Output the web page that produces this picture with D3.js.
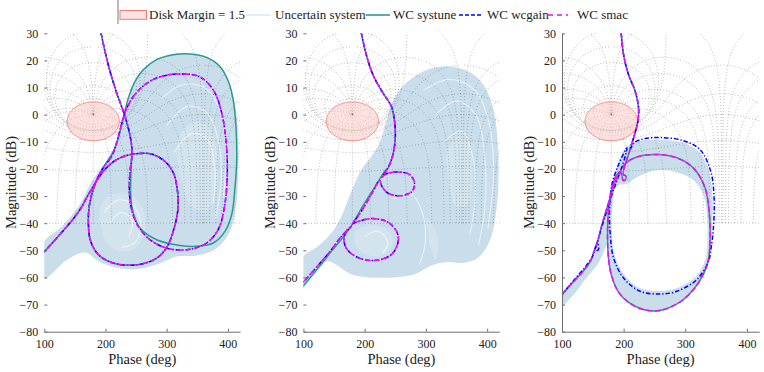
<!DOCTYPE html>
<html>
<head>
<meta charset="utf-8">
<script src="https://cdn.jsdelivr.net/npm/d3@7"></script>
<style>
  body { margin: 0; background: #fff; }
  svg text { font-family: "Liberation Serif", "Times New Roman", "DejaVu Serif", serif; fill: #222; }
</style>
</head>
<body>
<div id="chart"></div>
<script>
var serifFont = "'Liberation Serif', 'Times New Roman', 'DejaVu Serif', serif";

// ---- axis settings / tick labels ----
var phaseDomain = [100, 420];
var magDomain = [-80, 30];
var phaseTicks = [100, 200, 300, 400];
var magTicks = [-80, -70, -60, -50, -40, -30, -20, -10, 0, 10, 20, 30];

// Nichols grid: closed-loop gains (dB) and closed-loop phases (deg)
var gridGains = [6, 3, 1, 0.5, 0.25, 0, -1, -3, -6, -12, -20, -40];
var gridPhases = [1, 5, 10, 20, 30, 50, 90, 120, 150, 180, 210, 240, 270, 300, 310, 330, 340, 350, 355, 359];

// disk margin exclusion region: magnitudes (dB) at 180 deg, top and bottom
var diskTopDb = 4.7;
var diskBottomDb = -9.6;

// ---- panel 1 : [phase deg, magnitude dB] ----
var p1Smac = [[192.7,30.1],[199.2,23.3],[207.4,16.0],[218.3,8.0],[229.2,1.2],[237.3,-4.9],[242.2,-10.4],[243.3,-14.7],
  [240.1,-20.9],[239.0,-28.3],[242.8,-35.0],[253.7,-41.2],[272.8,-46.1],[300.0,-49.2],[332.7,-49.8],[365.4,-47.3],
  [385,-42],[395,-33.2],[399,-22.1],[397.5,-11.1],[390,0.5],[377,8.8],[354.5,13.9],[316.3,15.0],
  [283.6,13.5],[261.8,10.6],[245,6.5],[233,1.5],[225,-4.5],[218,-10.5],[210.1,-15.4],
  [196.5,-19.5],[183.0,-25.5],[174.0,-33.0],[172.0,-40.0],[175.5,-46.5],[188,-51.5],[210,-54.5],[235,-55.5],
  [260,-55],[283.6,-52.9],[300,-49],[312,-42],[318.5,-34.4],[317,-27],[310,-21],[295,-16.8],[275,-14.5],
  [255,-14.3],[235,-15.0],[215,-17.0],[198,-20.5],[185,-24.6],[172,-29.5],[160,-34.4],[147,-38.5],
  [132,-42.5],[115,-46.8],[98,-51]];
var p1Wcgain = p1Smac; // wcgain lies on top of smac in this panel
var p1Systune = [[192.7,30.1],[199.2,23.3],[207.4,16.0],[218.3,8.0],[229.2,1.2],[237.3,-4.9],[242.2,-10.4],[243.3,-14.7],
  [242.5,-17.2],[241.2,-29.5],[245.5,-36.3],[256.4,-41.8],[283.6,-46.1],[321.8,-48.2],[349,-48.5],[376,-47.3],
  [395.3,-43],[406.2,-36.9],[411.6,-27],[414.4,-17.2],[413.3,-4.9],[409,5],[400.8,12.3],[387.1,17.8],
  [365.4,21.1],[338.1,22.4],[310.9,22.1],[283.6,20.3],[261.9,16.6],[248.2,12.3],[237.3,6.1],[229.2,-1.2],
  [221,-8.6],[212.8,-13.5],[204.7,-16.6],
  [196.5,-19.5],[183.0,-25.5],[174.0,-33.0],[172.0,-40.0],[175.5,-46.5],[188,-51.5],[210,-54.5],[235,-55.5],
  [260,-55],[283.6,-52.9],[300,-49],[312,-42],[318.5,-34.4],[317,-27],[310,-21],[295,-16.8],[275,-14.5],
  [255,-14.3],[235,-15.0],[215,-17.0],[198,-20.5],[185,-24.6],[172,-29.5],[160,-34.4],[147,-38.5],
  [132,-42.5],[115,-46.8],[98,-51]];
var p1Uncertain = [[98,-47.5],[125.7,-41.8],[147.5,-36.3],[161.1,-31.9],[174.7,-25.8],[188.3,-20.9],[204.7,-16.2],
  [215.6,-11.7],[223.7,-4.9],[231.9,2.5],[242.8,9.8],[261.9,17.2],[289.1,21.1],[321.8,22.6],[354.5,21.6],
  [387.1,17.5],[406.2,9.2],[415.5,-2.5],[417.1,-17.2],[414.4,-31.9],[403.5,-43.0],[381.7,-49.2],[349.0,-51.9],
  [316.3,-52.3],[294.5,-54.3],[267.3,-56.3],[240,-57],[210,-56],[185,-53.5],[170,-51],[158.3,-51.1],
  [136.6,-53.6],[98,-60.5]];
var p1Sparse = [[[192,-34],[205,-30],[225,-29],[250,-31],[264,-37],[263,-44],[250,-49],[228,-50.5],[205,-48],[193,-42]],
  [[318,-10],[340,-3],[366,-4],[382,-14],[380,-28],[362,-36],[338,-33],[322,-22]]];
// white gaps seen between the uncertain responses
var p1Streaks = [
  [[292,6],[325,11],[362,10],[388,1],[397,-14],[393,-30]],
  [[300,-4],[333,3],[364,1],[384,-9],[389,-24],[380,-38]],
  [[312,-14],[340,-7],[366,-9],[379,-20],[376,-33]],
  [[198,-36],[220,-31.5],[244,-33],[257,-40],[249,-47],[226,-49]],
  [[206,-40],[226,-36],[244,-39],[238,-45]]];

// ---- panel 2 ----
var p2Smac = [[194.5,30.1],[202.7,22.1],[213.6,14.7],[229.9,8.0],[243.5,3.1],[248.9,-2.5],[250.0,-8.6],[246.2,-14.7],
  [238.0,-19.7],[228.5,-23.0],
  [235.3,-21.8],[254.3,-21.1],[273.4,-22.1],[281.5,-25.2],[277.2,-28.3],[257.1,-29.9],[238.0,-28.9],[228.2,-26.4],[224.4,-24.3],
  [213.6,-28.3],[202.7,-32.6],[189.1,-37.5],[180,-40.2],
  [186.4,-39.6],[210.8,-38.3],[238.0,-39.6],[253.3,-43.6],[254.3,-47.3],[243.5,-51.6],[219.0,-53.7],[191.8,-52.9],
  [171.7,-49.8],[166.2,-46.1],[170.1,-43.0],[178.2,-41.2],
  [161.9,-44.9],[145.6,-49.8],[123.8,-55.6],[98,-62.2]];
var p2Wcgain = p2Smac; // wcgain coincides with smac here
var p2Systune = [[194.5,30.1],[202.7,22.1],[213.6,14.7],[229.9,8.0],[243.5,3.1],[248.9,-2.5],[250.0,-8.6],[246.2,-14.7],
  [238.0,-19.7],[233.7,-20.6],[221.7,-24.8],[208.1,-29.7],[194.5,-34.6],[180.9,-40.1],[164.6,-45.2],[145.6,-50.4],
  [123.8,-56.6],[98,-63.6]];
var p2Uncertain = [[98,-52.8],[123.8,-48.5],[145.6,-43.6],[161.9,-37.5],[178.2,-28.3],[194.5,-20.3],[210.8,-15.4],
  [224.4,-10.4],[233.7,-3.7],[243.5,3.7],[259.8,9.8],[281.5,14.1],[308.7,17.0],[335.9,17.8],[363.1,16.6],
  [384.8,13.5],[401.2,8.0],[412.0,0.0],[417.5,-11.1],[418.6,-23.4],[414.8,-35.6],[403.9,-46.7],[384.8,-52.8],
  [357.7,-54.7],[335,-54.3],[310,-55.5],[285,-58.5],[260,-59.7],[230,-60.1],[200,-59.8],[175,-58.5],
  [155,-55.5],[140,-54],[123.8,-57],[98,-63.8]];
var p2Sparse = [[[185,-43],[205,-41],[230,-41.5],[245,-45],[242,-49.5],[225,-52],[202,-51.5],[186,-48.5]],
  [[302,-38],[314,-42],[320,-49],[316,-53.5],[308,-50],[304,-44]],
  [[334,-14],[352,-8],[370,-11],[376,-23],[368,-33],[350,-34],[338,-26]]];
var p2Streaks = [
  [[296,9],[338,13],[380,9],[404,-4],[410,-24],[401,-42]],
  [[316,0],[350,5],[381,0],[396,-15],[396,-35],[386,-48]],
  [[330,-10],[358,-6],[377,-16],[380,-32],[372,-44]],
  [[248,-31],[274,-29],[294,-36],[299,-47],[290,-55]],
  [[200,-45],[222,-43],[238,-47],[230,-51]]];

// ---- panel 3 ----
var p3Smac = [[196.1,30.1],[199.9,22.1],[208.0,14.7],[218.8,8.6],[224.2,2.5],[223.1,-2.5],[216.1,-8.6],[208.0,-14.7],
  [201,-19.5],[199.5,-22.0],[203.5,-22.6],[203,-24],[199,-24.2],[197.5,-22.5],
  [195,-21],[204,-17.8],[221.5,-15.6],[253.9,-14.7],[286.3,-15.9],[313.3,-19.7],[332.2,-27.0],[339.2,-36.9],
  [340.3,-46.7],[337.6,-53.5],[330,-58.5],[315,-64],[295,-68.5],[272,-71.3],[253.9,-72.3],[232,-71.8],
  [210,-69.5],[192,-65.5],[180,-59],[175,-51.6],[174,-41.8],[176.5,-33],[181,-27],[188,-22.5],[194.5,-20.9],
  [186,-25],[179,-30],[172.9,-34.4],[164.8,-40.6],[157.8,-46.7],[151,-51],[145.9,-54.1],[135,-57.5],
  [124.3,-60.2],[112,-63.2],[98,-66.8]];
var p3Systune = p3Smac; // systune sits under the smac curve here
var p3Wcgain = [[196.1,30.1],[199.9,22.1],[208.0,14.7],[218.8,8.6],[224.2,2.5],[223.1,-2.5],[216.1,-8.6],[211,-12.5],
  [218,-10.2],[235,-8.8],[259.3,-8.4],[297.1,-9.6],[324.1,-12.9],[341.4,-20.9],[346.8,-30.7],[345.7,-41.8],
  [342,-49],[337.6,-54.1],[318.7,-60.8],[286.3,-65.1],[259.3,-66.1],[226.9,-65.1],[199.9,-60.2],[183.7,-52.8],
  [178.3,-44.2],[177.2,-34.4],[181.0,-25.8],[191.8,-18.4],[205.3,-12.3],
  [203,-15],[196,-20],[188,-25],[178,-31.5],[170,-37.5],[163,-42.5],[158,-46.5],
  [155.5,-48.5],[157,-50],[159.5,-49.5],[158.5,-47.8],[155.5,-48.2],
  [150,-52],[140,-55.5],[125,-59.5],[112,-63],[98,-67]];
var p3Uncertain = [[206,-11.5],[230,-9.5],[259,-9.2],[297,-10.4],[322,-13.6],[339,-21],[344.5,-31],[343.5,-42],
  [340.5,-49],[338,-54],[330,-59],[315,-64.5],[295,-69],[272,-71.8],[254,-72.8],[232,-72.3],[210,-70],
  [192,-66],[179,-59],[173.5,-51.6],[173,-41.8],[175.5,-33],[180,-27],[187,-21],[195,-15.5]];
var p3UncertainHole = [[192,-26],[205,-25.5],[222,-23],[254,-20.5],[290,-21.5],[315,-24.5],[330,-30],[335.5,-38],
  [336,-46],[333,-53],[318,-59.5],[286,-64],[259,-65],[227,-64],[201,-59],[186,-52],[181,-44],[180.5,-34.5],[184,-28]];
var p3UncertainTail = [[98,-66.2],[112,-62.6],[125,-59.1],[140,-55.1],[150,-51.6],[158,-46.1],[163,-42.1],[170,-37.1],
  [178,-31.1],[184,-27.5],[182,-34],[178,-40],[173,-47],[165,-52],[157,-55.5],[146,-58.4],[135,-61.5],
  [124,-65],[112,-68],[98,-71]];

// ---- layout ----
var svgWidth = 764, svgHeight = 372;
var plotTop = 33.3, plotBottom = 331.7;
var panels = [
  { left: 44.3, width: 195.8, yAxisLine: false, unc: [p1Uncertain], sparse: p1Sparse, streaks: p1Streaks,
    systune: p1Systune, wcgain: p1Wcgain, smac: p1Smac },
  { left: 303.4, width: 196.0, yAxisLine: false, unc: [p2Uncertain], sparse: p2Sparse, streaks: p2Streaks,
    systune: p2Systune, wcgain: p2Wcgain, smac: p2Smac },
  { left: 562.0, width: 197.2, yAxisLine: true, unc: [p3UncertainTail], ring: p3Uncertain, hole: p3UncertainHole,
    sparse: [], streaks: [], systune: p3Systune, wcgain: p3Wcgain, smac: p3Smac }
];

var colors = { unc: "#c9ddeb", uncLine: "#dbe8f2", sparse: "#d3e4ef", teal: "#2a9b94", blue: "#0000ff", magenta: "#ff00ff",
  diskFill: "#fbc9c4", diskStroke: "#f07b72", grid: "#5a5a5a", axis: "#6e6e6e" };

var svg = d3.select("#chart").append("svg")
  .attr("width", svgWidth).attr("height", svgHeight);

// ---- Nichols grid geometry ----
function openLoop(tr, ti) {
  // L = T / (1 - T)
  var dr = 1 - tr, di = -ti;
  var den = dr * dr + di * di;
  var lr = (tr * dr + ti * di) / den, li = (ti * dr - tr * di) / den;
  var ph = Math.atan2(li, lr) * 180 / Math.PI;
  if (ph < 0) ph += 360;
  return [ph, 20 * Math.log10(Math.hypot(lr, li))];
}
function splitPaths(pts) {
  var out = [], cur = [];
  pts.forEach(function(p) {
    if (!isFinite(p[1]) || p[1] > 80) { if (cur.length > 1) out.push(cur); cur = []; return; }
    if (cur.length && Math.abs(p[0] - cur[cur.length - 1][0]) > 90) { if (cur.length > 1) out.push(cur); cur = []; }
    cur.push(p);
  });
  if (cur.length > 1) out.push(cur);
  return out;
}
var gridPaths = [];
gridGains.forEach(function(g) {
  var m = Math.pow(10, g / 20);
  var pts = d3.range(0.25, 360, 0.5).map(function(t) {
    var a = t * Math.PI / 180;
    return openLoop(m * Math.cos(a), m * Math.sin(a));
  });
  gridPaths = gridPaths.concat(splitPaths(pts));
});
gridPhases.forEach(function(t) {
  var a = -t * Math.PI / 180;
  var pts = d3.range(-40, 60.01, 0.2).map(function(gdb) {
    var m = Math.pow(10, gdb / 20);
    return openLoop(m * Math.cos(a), m * Math.sin(a));
  });
  gridPaths = gridPaths.concat(splitPaths(pts));
});

// disk margin region as a disk in the L plane
var diskA = Math.pow(10, diskTopDb / 20), diskB = Math.pow(10, diskBottomDb / 20);
var diskC = -(diskA + diskB) / 2, diskR = (diskA - diskB) / 2;
var diskPts = d3.range(0, 360, 2).map(function(t) {
  var a = t * Math.PI / 180;
  var lr = diskC + diskR * Math.cos(a), li = diskR * Math.sin(a);
  var ph = Math.atan2(li, lr) * 180 / Math.PI;
  if (ph < 0) ph += 360;
  return [ph, 20 * Math.log10(Math.hypot(lr, li))];
});

// ---- draw panels ----
panels.forEach(function(pn, i) {
  var x = d3.scaleLinear().domain(phaseDomain).range([pn.left, pn.left + pn.width]);
  var y = d3.scaleLinear().domain(magDomain).range([plotBottom, plotTop]);
  var line = d3.line().x(function(d) { return x(d[0]); }).y(function(d) { return y(d[1]); });
  var closed = d3.line().x(function(d) { return x(d[0]); }).y(function(d) { return y(d[1]); }).curve(d3.curveLinearClosed);
  var smooth = d3.line().x(function(d) { return x(d[0]); }).y(function(d) { return y(d[1]); }).curve(d3.curveCatmullRom.alpha(0.5));
  var smoothClosed = d3.line().x(function(d) { return x(d[0]); }).y(function(d) { return y(d[1]); }).curve(d3.curveCatmullRomClosed.alpha(0.5));

  svg.append("clipPath").attr("id", "clip" + i)
    .append("rect").attr("x", pn.left).attr("y", plotTop)
    .attr("width", pn.width).attr("height", plotBottom - plotTop);
  var g = svg.append("g").attr("clip-path", "url(#clip" + i + ")");

  // uncertain system envelope
  pn.unc.forEach(function(poly) {
    g.append("path").attr("d", smoothClosed(poly)).attr("fill", colors.unc).attr("stroke", "none");
  });
  if (pn.ring) {
    g.append("path").attr("d", smoothClosed(pn.ring) + smoothClosed(pn.hole))
      .attr("fill", colors.unc).attr("fill-rule", "evenodd");
  }
  pn.sparse.forEach(function(poly) {
    g.append("path").attr("d", smoothClosed(poly)).attr("fill", colors.sparse);
  });
  pn.streaks.forEach(function(s) {
    g.append("path").attr("d", smooth(s)).attr("fill", "none")
      .attr("stroke", "#fff").attr("stroke-opacity", 0.55).attr("stroke-width", 1.2);
  });

  // Nichols grid (two copies, centred on 180 and 540 deg)
  [0, 360].forEach(function(off) {
    gridPaths.forEach(function(p) {
      g.append("path")
        .attr("d", line(p.map(function(d) { return [d[0] + off, d[1]]; })))
        .attr("fill", "none").attr("stroke", colors.grid)
        .attr("stroke-width", 0.55).attr("stroke-dasharray", "0.7,2.3");
    });
  });

  // disk margin
  g.append("path").attr("d", closed(diskPts))
    .attr("fill", colors.diskFill).attr("fill-opacity", 0.55)
    .attr("stroke", colors.diskStroke).attr("stroke-width", 0.8);

  // worst-case curves
  g.append("path").attr("d", smooth(pn.systune)).attr("fill", "none")
    .attr("stroke", colors.teal).attr("stroke-width", 1.5);
  g.append("path").attr("d", smooth(pn.wcgain)).attr("fill", "none")
    .attr("stroke", colors.blue).attr("stroke-width", 1.5).attr("stroke-dasharray", "4.5,2,1.3,2");
  g.append("path").attr("d", smooth(pn.smac)).attr("fill", "none")
    .attr("stroke", colors.magenta).attr("stroke-width", 1.5).attr("stroke-dasharray", "5.5,3");

  // axes
  var ax = svg.append("g").attr("transform", "translate(0," + plotBottom + ")")
    .call(d3.axisBottom(x).tickValues(phaseTicks).tickSizeInner(-3).tickSizeOuter(0).tickPadding(8));
  ax.attr("font-family", serifFont);
  ax.select(".domain").attr("stroke", colors.axis);
  ax.selectAll(".tick line").attr("stroke", colors.axis);
  ax.selectAll("text").attr("font-family", serifFont).style("font-family", serifFont)
    .style("font-size", "12px").attr("fill", "#222");

  var ay = svg.append("g").attr("transform", "translate(" + pn.left + ",0)")
    .call(d3.axisLeft(y).tickValues(magTicks).tickSizeInner(-3).tickSizeOuter(0).tickPadding(6));
  ay.attr("font-family", serifFont);
  ay.select(".domain").attr("stroke", pn.yAxisLine ? colors.axis : "none");
  ay.selectAll(".tick line").attr("stroke", colors.axis);
  ay.selectAll("text").attr("font-family", serifFont).style("font-family", serifFont)
    .style("font-size", "12px").attr("fill", "#222");

  svg.append("text")
    .attr("x", pn.left + pn.width / 2).attr("y", 364)
    .attr("text-anchor", "middle").attr("font-family", serifFont).style("font-size", "14.5px")
    .text("Phase (deg)");
  svg.append("text")
    .attr("transform", "rotate(-90)")
    .attr("x", -(plotTop + plotBottom) / 2).attr("y", pn.left - 28)
    .attr("text-anchor", "middle").attr("font-family", serifFont).style("font-size", "14.5px")
    .text("Magnitude (dB)");
});

// ---- legend ----
var legend = svg.append("g");
legend.append("line").attr("x1", 118).attr("x2", 118).attr("y1", 0).attr("y2", 24)
  .attr("stroke", "#555").attr("stroke-width", 0.8);
legend.append("rect").attr("x", 120).attr("y", 10.5).attr("width", 26.5).attr("height", 8.8)
  .attr("fill", "#fde3e1").attr("stroke", "#f07b72").attr("stroke-width", 1);
var legendItems = [
  { x: 149, label: "Disk Margin = 1.5" },
  { x: 275, label: "Uncertain system", line: [246, 270], stroke: colors.uncLine, dash: null },
  { x: 393, label: "WC systune", line: [365.7, 390], stroke: colors.teal, dash: null },
  { x: 487, label: "WC wcgain", line: [459, 481], stroke: colors.blue, dash: "4,2" },
  { x: 577, label: "WC smac", line: [548, 568], stroke: colors.magenta, dash: "5,4" }
];
legendItems.forEach(function(it) {
  if (it.line) {
    legend.append("line").attr("x1", it.line[0]).attr("x2", it.line[1]).attr("y1", 15).attr("y2", 15)
      .attr("stroke", it.stroke).attr("stroke-width", 1.6).attr("stroke-dasharray", it.dash);
  }
  legend.append("text").attr("x", it.x).attr("y", 19).attr("font-family", serifFont)
    .style("font-size", "13px").text(it.label);
});
</script>
</body>
</html>
